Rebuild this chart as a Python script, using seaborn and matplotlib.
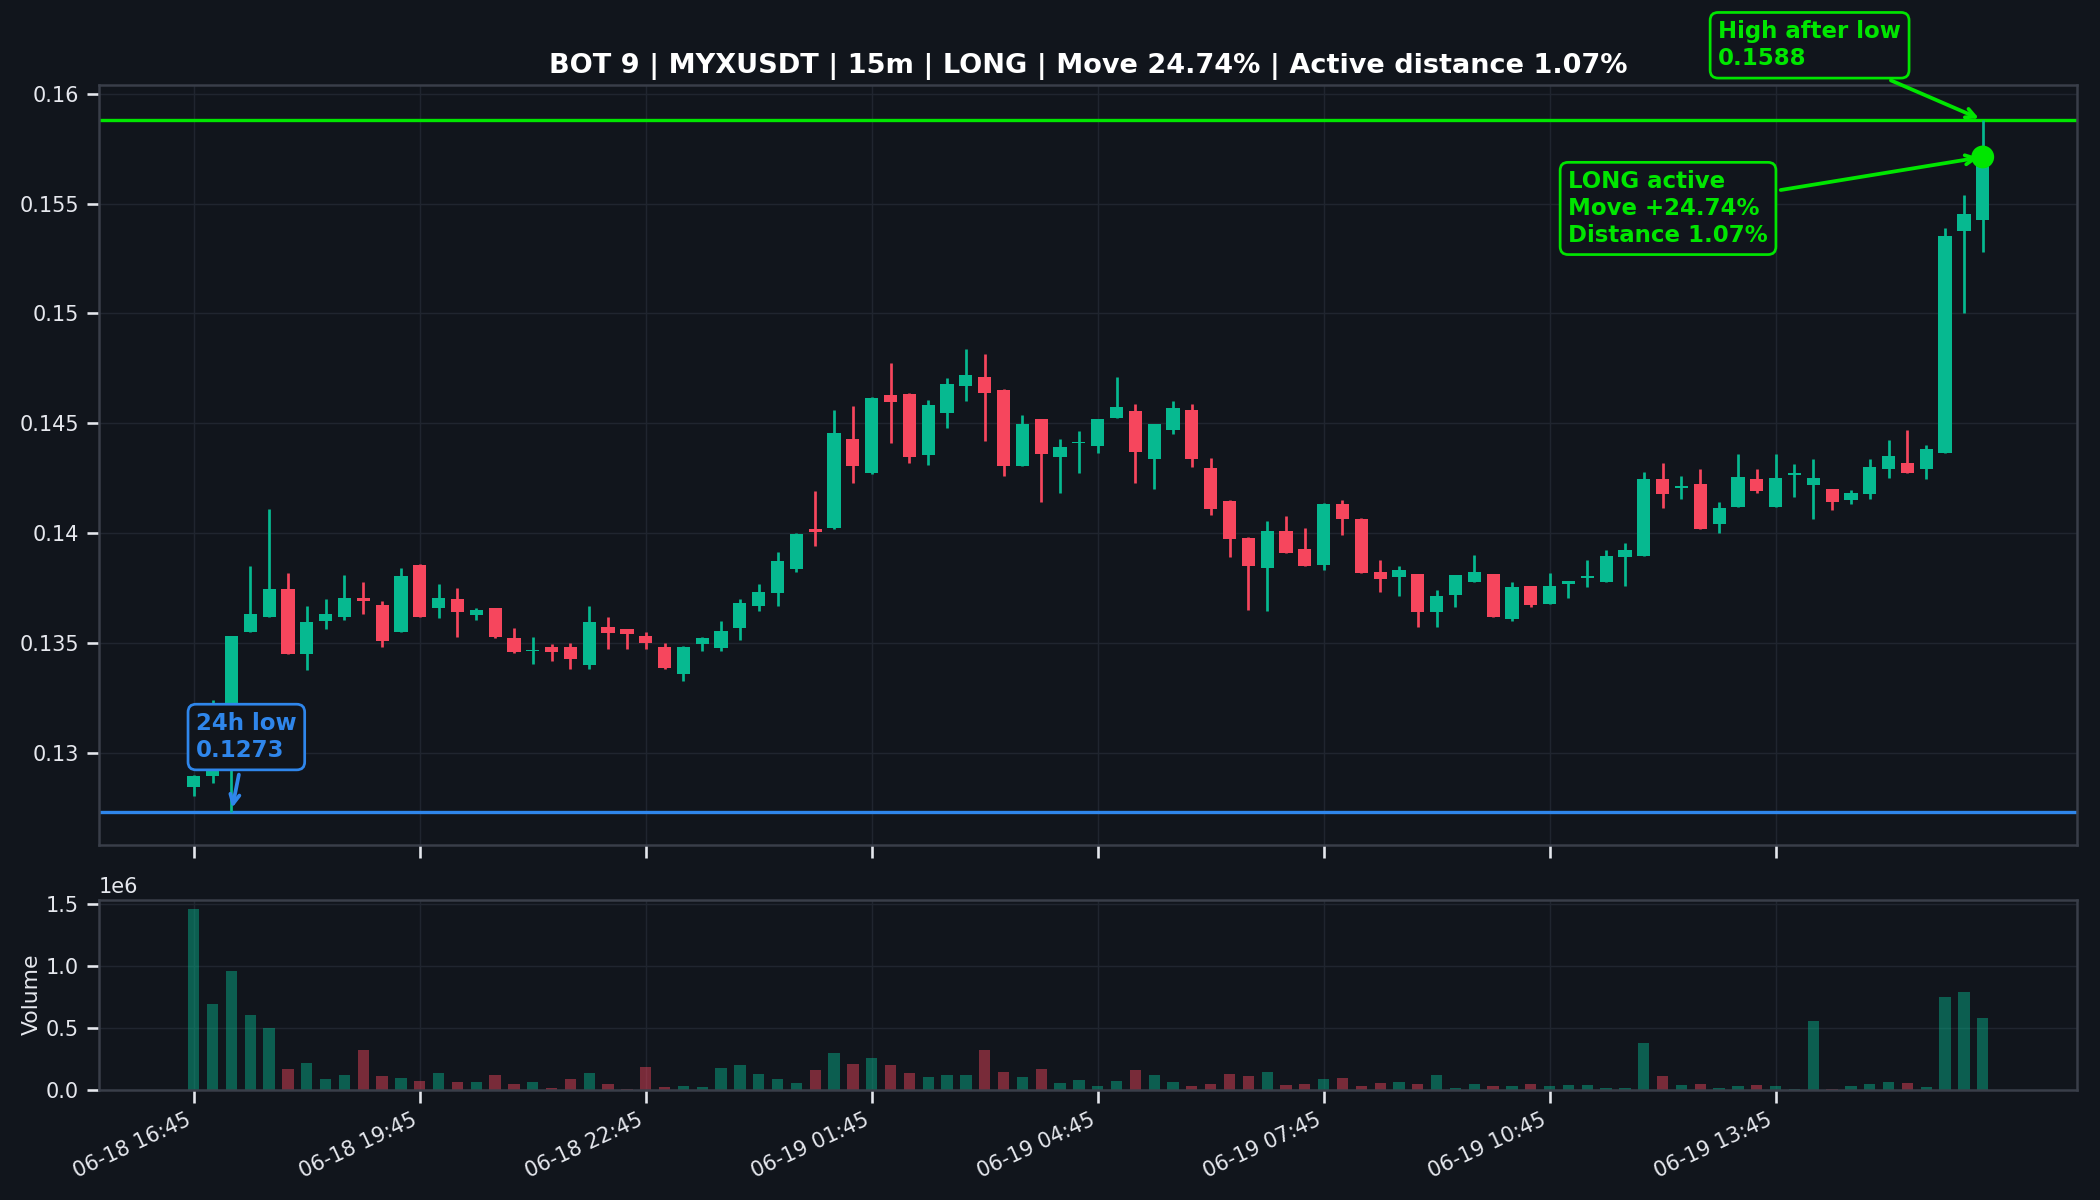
import numpy as np
import pandas as pd
import matplotlib
matplotlib.use("Agg")
import matplotlib.pyplot as plt
from matplotlib.ticker import FuncFormatter
import seaborn as sns

# 15m candles, 06-18 16:45 -> 06-19 16:30
opens = [0.12845, 0.12895, 0.12917, 0.13550, 0.13617, 0.13746, 0.13448, 0.13599, 0.13617, 0.13706,
         0.13674, 0.13550, 0.13855, 0.13658, 0.13697, 0.13626, 0.13656, 0.13523, 0.13462, 0.13482,
         0.13482, 0.13398, 0.13572, 0.13561, 0.13532, 0.13482, 0.13358, 0.13493, 0.13477, 0.13566,
         0.13667, 0.13726, 0.13837, 0.14020, 0.14024, 0.14430, 0.14272, 0.14629, 0.14634, 0.14356,
         0.14548, 0.14668, 0.14710, 0.14652, 0.14306, 0.14521, 0.14347, 0.14408, 0.14397, 0.14525,
         0.14555, 0.14336, 0.14471, 0.14561, 0.14295, 0.14146, 0.13979, 0.13839, 0.14010, 0.13929,
         0.13855, 0.14132, 0.14063, 0.13821, 0.13798, 0.13814, 0.13640, 0.13717, 0.13776, 0.13814,
         0.13606, 0.13760, 0.13678, 0.13769, 0.13794, 0.13776, 0.13889, 0.13897, 0.14245, 0.14205,
         0.14223, 0.14040, 0.14119, 0.14245, 0.14117, 0.14263, 0.14218, 0.14202, 0.14150, 0.14177,
         0.14290, 0.14320, 0.14290, 0.14365, 0.15377, 0.15426]
highs = [0.12900, 0.13238, 0.13532, 0.13850, 0.14110, 0.13816, 0.13669, 0.13701, 0.13809, 0.13776,
         0.13692, 0.13839, 0.13858, 0.13769, 0.13751, 0.13658, 0.13660, 0.13566, 0.13527, 0.13493,
         0.13497, 0.13669, 0.13617, 0.13561, 0.13550, 0.13497, 0.13485, 0.13527, 0.13600, 0.13697,
         0.13769, 0.13911, 0.14001, 0.14193, 0.14561, 0.14577, 0.14620, 0.14776, 0.14638, 0.14607,
         0.14706, 0.14837, 0.14814, 0.14656, 0.14539, 0.14521, 0.14426, 0.14464, 0.14521, 0.14708,
         0.14589, 0.14494, 0.14600, 0.14589, 0.14340, 0.14150, 0.13980, 0.14056, 0.14076, 0.14024,
         0.14135, 0.14148, 0.14070, 0.13877, 0.13848, 0.13814, 0.13742, 0.13809, 0.13900, 0.13814,
         0.13776, 0.13760, 0.13816, 0.13781, 0.13877, 0.13922, 0.13952, 0.14277, 0.14318, 0.14257,
         0.14290, 0.14141, 0.14358, 0.14290, 0.14358, 0.14315, 0.14338, 0.14202, 0.14196, 0.14338,
         0.14424, 0.14469, 0.14399, 0.15388, 0.15539, 0.15880]
lows = [0.12804, 0.12861, 0.12730, 0.13550, 0.13617, 0.13448, 0.13374, 0.13561, 0.13602, 0.13633,
        0.13482, 0.13550, 0.13617, 0.13611, 0.13527, 0.13602, 0.13520, 0.13455, 0.13403, 0.13415,
        0.13380, 0.13380, 0.13470, 0.13470, 0.13470, 0.13380, 0.13324, 0.13464, 0.13464, 0.13511,
        0.13645, 0.13669, 0.13821, 0.13940, 0.14020, 0.14227, 0.14270, 0.14408, 0.14318, 0.14311,
        0.14480, 0.14600, 0.14419, 0.14261, 0.14306, 0.14141, 0.14182, 0.14272, 0.14363, 0.14525,
        0.14227, 0.14200, 0.14449, 0.14300, 0.14080, 0.13889, 0.13651, 0.13645, 0.13907, 0.13848,
        0.13830, 0.13990, 0.13816, 0.13730, 0.13712, 0.13572, 0.13572, 0.13663, 0.13776, 0.13615,
        0.13600, 0.13663, 0.13678, 0.13703, 0.13753, 0.13776, 0.13760, 0.13897, 0.14114, 0.14155,
        0.14017, 0.14001, 0.14119, 0.14182, 0.14117, 0.14162, 0.14065, 0.14105, 0.14132, 0.14154,
        0.14252, 0.14275, 0.14245, 0.14365, 0.15002, 0.15280]
closes = [0.12895, 0.12917, 0.13532, 0.13633, 0.13746, 0.13448, 0.13595, 0.13633, 0.13706, 0.13690,
          0.13509, 0.13805, 0.13617, 0.13706, 0.13640, 0.13647, 0.13527, 0.13459, 0.13466, 0.13459,
          0.13425, 0.13595, 0.13545, 0.13538, 0.13500, 0.13387, 0.13482, 0.13523, 0.13554, 0.13683,
          0.13730, 0.13873, 0.13997, 0.14006, 0.14453, 0.14306, 0.14616, 0.14598, 0.14347, 0.14582,
          0.14679, 0.14720, 0.14638, 0.14306, 0.14498, 0.14358, 0.14392, 0.14415, 0.14521, 0.14573,
          0.14367, 0.14494, 0.14570, 0.14336, 0.14110, 0.13974, 0.13848, 0.14010, 0.13907, 0.13848,
          0.14132, 0.14065, 0.13816, 0.13791, 0.13830, 0.13640, 0.13712, 0.13809, 0.13821, 0.13615,
          0.13753, 0.13674, 0.13760, 0.13781, 0.13803, 0.13895, 0.13922, 0.14245, 0.14177, 0.14216,
          0.14017, 0.14114, 0.14254, 0.14189, 0.14252, 0.14274, 0.14252, 0.14139, 0.14180, 0.14302,
          0.14351, 0.14275, 0.14381, 0.15354, 0.15453, 0.15712]
volumes = [1.465e6, 0.695e6, 0.962e6, 0.605e6, 0.500e6, 0.168e6, 0.216e6, 0.0865e6, 0.119e6, 0.322e6,
           0.111e6, 0.095e6, 0.070e6, 0.135e6, 0.062e6, 0.062e6, 0.119e6, 0.046e6, 0.062e6, 0.0135e6,
           0.0865e6, 0.135e6, 0.046e6, 0.004e6, 0.184e6, 0.022e6, 0.030e6, 0.022e6, 0.176e6, 0.200e6,
           0.127e6, 0.0865e6, 0.054e6, 0.160e6, 0.297e6, 0.208e6, 0.257e6, 0.200e6, 0.135e6, 0.103e6,
           0.119e6, 0.119e6, 0.322e6, 0.143e6, 0.103e6, 0.168e6, 0.054e6, 0.078e6, 0.030e6, 0.070e6,
           0.160e6, 0.119e6, 0.062e6, 0.030e6, 0.046e6, 0.127e6, 0.111e6, 0.143e6, 0.038e6, 0.046e6,
           0.0865e6, 0.095e6, 0.030e6, 0.054e6, 0.062e6, 0.046e6, 0.119e6, 0.0135e6, 0.046e6, 0.030e6,
           0.030e6, 0.046e6, 0.030e6, 0.038e6, 0.038e6, 0.0135e6, 0.0135e6, 0.381e6, 0.111e6, 0.038e6,
           0.046e6, 0.0135e6, 0.030e6, 0.038e6, 0.030e6, 0.005e6, 0.557e6, 0.003e6, 0.030e6, 0.046e6,
           0.062e6, 0.054e6, 0.022e6, 0.751e6, 0.792e6, 0.581e6]

tick_labels = ["06-18 16:45", "06-18 19:45", "06-18 22:45", "06-19 01:45",
               "06-19 04:45", "06-19 07:45", "06-19 10:45", "06-19 13:45"]

low_24h = 0.1273
low_idx = 2
high_after = 0.1588
high_idx = 95
last_price = 0.15712
title = "BOT 9 | MYXUSDT | 15m | LONG | Move 24.74% | Active distance 1.07%"

BG = "#11151c"
UP = "#06b990"
DOWN = "#f6465d"
LIME = "#00e600"
BLUE = "#2f86eb"
TXT = "#e6e8ee"
SPINE = "#393e49"
GRID = "#20252f"

sns.set_theme(style="dark", rc={
    "figure.facecolor": BG, "axes.facecolor": BG, "axes.edgecolor": SPINE,
    "axes.labelcolor": TXT, "xtick.color": TXT, "ytick.color": TXT,
    "text.color": TXT, "grid.color": GRID, "axes.grid": True,
    "xtick.bottom": True, "ytick.left": True, "axes.linewidth": 1.2,
    "patch.edgecolor": "none",
})
plt.rcParams["font.family"] = ["DejaVu Sans"]

df = pd.DataFrame({"open": opens, "high": highs, "low": lows, "close": closes, "volume": volumes})
df["idx"] = np.arange(len(df))
df["dir"] = np.where(df["close"] >= df["open"], "up", "down")
colors = df["dir"].map({"up": UP, "down": DOWN})

fig, (ax, axv) = plt.subplots(2, 1, figsize=(14, 8), dpi=150, sharex=True,
                              gridspec_kw={"height_ratios": [4, 1]})
fig.subplots_adjust(left=0.047, right=0.989, top=0.929, bottom=0.092, hspace=0.114)

# candles
ax.vlines(df["idx"], df["low"], df["high"], colors=colors, linewidth=1.3, zorder=2)
body = (df["close"] - df["open"]).abs().clip(lower=0.00004)
ax.bar(df["idx"], body, bottom=df[["open", "close"]].min(axis=1), width=0.7,
       color=colors, edgecolor="none", linewidth=0, zorder=3)

ax.axhline(high_after, color=LIME, lw=1.6, zorder=1)
ax.axhline(low_24h, color=BLUE, lw=1.6, zorder=1)
ax.scatter([high_idx], [last_price], s=120, color=LIME, edgecolors="none", zorder=6)

ax.set_ylim(low_24h * 0.988, high_after * 1.01)
ax.set_xlim(-5.05, 100)
ax.set_yticks([0.13, 0.135, 0.14, 0.145, 0.15, 0.155, 0.16])
ax.yaxis.set_major_formatter(FuncFormatter(lambda v, _: f"{v:g}"))
ax.tick_params(labelsize=10)
ax.set_title(title, fontsize=13, fontweight="bold", color="white", pad=6)

box = dict(boxstyle="round,pad=0.35", fc=BG, lw=1.3)
ax.annotate("24h low\n0.1273", xy=(low_idx, low_24h), xytext=(-17, 24),
            textcoords="offset points", ha="left", va="bottom", fontsize=11,
            fontweight="bold", color=BLUE, bbox={**box, "ec": BLUE},
            arrowprops=dict(arrowstyle="->", color=BLUE, lw=1.8), zorder=7)
ax.annotate("High after low\n0.1588", xy=(high_idx, high_after), xytext=(-127, 24),
            textcoords="offset points", ha="left", va="bottom", fontsize=11,
            fontweight="bold", color=LIME, bbox={**box, "ec": LIME},
            arrowprops=dict(arrowstyle="->", color=LIME, lw=1.8), zorder=7,
            annotation_clip=False)
ax.annotate("LONG active\nMove +24.74%\nDistance 1.07%", xy=(high_idx, last_price),
            xytext=(-199, -43), textcoords="offset points", ha="left", va="bottom",
            fontsize=11, fontweight="bold", color=LIME, bbox={**box, "ec": LIME},
            arrowprops=dict(arrowstyle="->", color=LIME, lw=1.8), zorder=7)

# volume
sns.barplot(data=df, x="idx", y="volume", hue="dir", palette={"up": UP, "down": DOWN},
            native_scale=True, dodge=False, width=0.6, saturation=1, alpha=0.45,
            errorbar=None, legend=False, ax=axv, zorder=2, linewidth=0, edgecolor="none")
axv.set_ylim(0, max(volumes) * 1.05)
axv.set_yticks([0, 0.5e6, 1.0e6, 1.5e6])
axv.set_ylabel("Volume", fontsize=10.5, labelpad=2)
axv.set_xlabel("")
axv.set_xlim(-5.05, 100)
axv.set_xticks(np.arange(0, 96, 12))
axv.set_xticklabels(tick_labels, rotation=25, ha="right")
axv.tick_params(labelsize=10)
axv.yaxis.get_offset_text().set_fontsize(10)

for a in (ax, axv):
    a.grid(True, color=GRID, lw=0.7)
    for s in a.spines.values():
        s.set_color(SPINE)

fig.savefig("out.png", dpi=150, facecolor=BG)
